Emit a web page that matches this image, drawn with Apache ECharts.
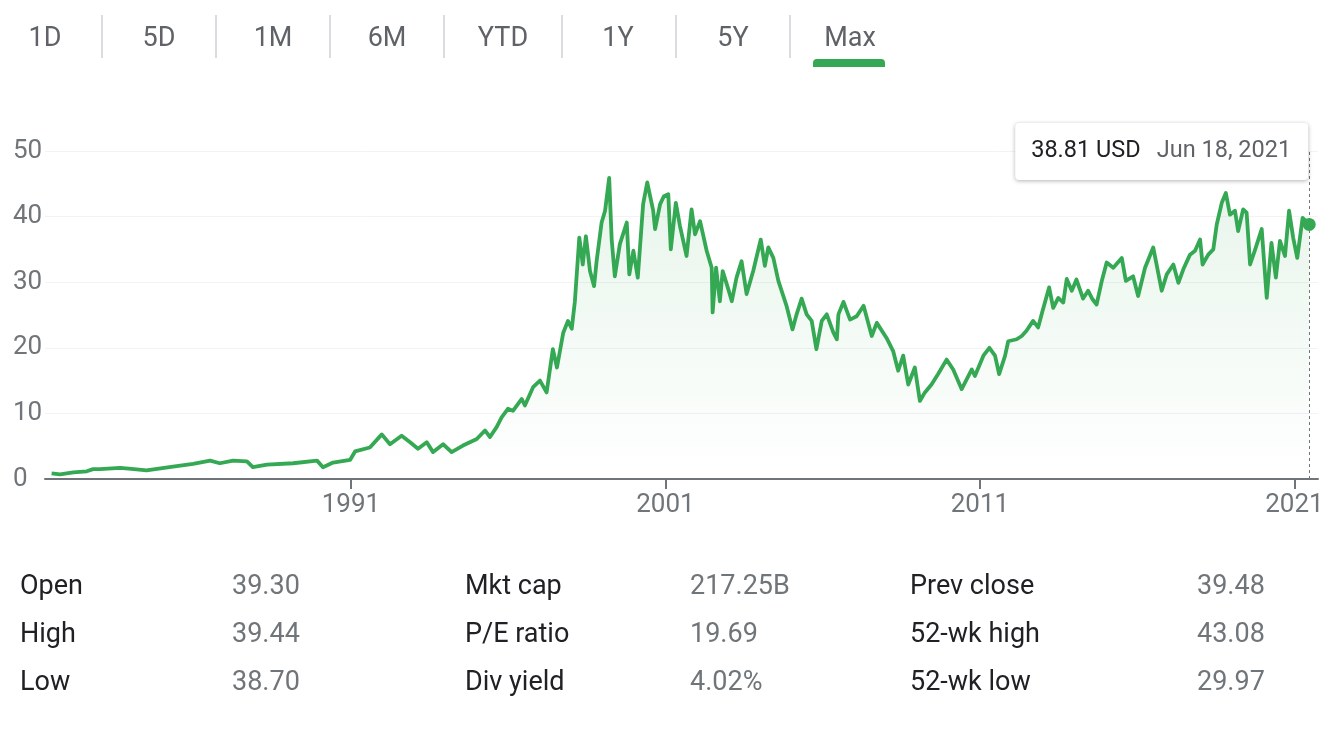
<!DOCTYPE html>
<html><head><meta charset="utf-8">
<script src="https://cdn.jsdelivr.net/npm/echarts@6/dist/echarts.min.js"></script>
<style>html,body{margin:0;padding:0;background:#fff}#c{width:1343px;height:730px}</style>
</head><body><div id="c"></div>
<script>
// ---------- data ----------
const ranges = ['1D', '5D', '1M', '6M', 'YTD', '1Y', '5Y', 'Max'];
const activeRange = 'Max';
const yearTicks = [1991, 2001, 2011, 2021];
const years = [
  1981.48, 1981.75, 1982.17, 1982.60, 1982.80, 1983.02, 1983.66, 1984.10, 1984.50, 1985.34,
  1985.98, 1986.52, 1986.83, 1987.25, 1987.69, 1987.88, 1988.33, 1989.16, 1989.92, 1990.11,
  1990.43, 1990.97, 1991.13, 1991.60, 1991.98, 1992.24, 1992.61, 1992.88, 1993.13, 1993.41,
  1993.61, 1993.93, 1994.20, 1994.56, 1995.00, 1995.26, 1995.42, 1995.63, 1995.79, 1995.99,
  1996.15, 1996.43, 1996.53, 1996.79, 1997.01, 1997.22, 1997.42, 1997.55, 1997.75, 1997.90,
  1998.02, 1998.12, 1998.26, 1998.37, 1998.47, 1998.60, 1998.73, 1998.81, 1998.97, 1999.08,
  1999.21, 1999.29, 1999.39, 1999.55, 1999.77, 1999.85, 1999.98, 2000.12, 2000.29, 2000.42,
  2000.61, 2000.67, 2000.83, 2000.95, 2001.09, 2001.17, 2001.33, 2001.46, 2001.67, 2001.83,
  2001.94, 2002.10, 2002.31, 2002.47, 2002.50, 2002.61, 2002.73, 2002.82, 2003.00, 2003.11,
  2003.26, 2003.42, 2003.58, 2003.79, 2004.03, 2004.16, 2004.27, 2004.43, 2004.59, 2004.85,
  2005.04, 2005.17, 2005.33, 2005.49, 2005.65, 2005.80, 2005.97, 2006.13, 2006.34, 2006.45,
  2006.50, 2006.66, 2006.87, 2007.08, 2007.30, 2007.56, 2007.72, 2008.03, 2008.24, 2008.40,
  2008.56, 2008.72, 2008.93, 2009.09, 2009.25, 2009.46, 2009.67, 2009.94, 2010.15, 2010.42,
  2010.74, 2010.84, 2011.11, 2011.30, 2011.48, 2011.61, 2011.80, 2011.90, 2012.17, 2012.33,
  2012.48, 2012.69, 2012.85, 2012.99, 2013.20, 2013.33, 2013.49, 2013.65, 2013.76, 2013.92,
  2014.07, 2014.28, 2014.44, 2014.58, 2014.71, 2014.87, 2015.03, 2015.24, 2015.51, 2015.64,
  2015.87, 2016.03, 2016.25, 2016.51, 2016.78, 2016.94, 2017.15, 2017.31, 2017.47, 2017.68,
  2017.84, 2018.00, 2018.08, 2018.26, 2018.42, 2018.53, 2018.69, 2018.82, 2018.95, 2019.11,
  2019.21, 2019.37, 2019.48, 2019.59, 2019.74, 2019.96, 2020.12, 2020.27, 2020.41, 2020.54,
  2020.70, 2020.83, 2020.96, 2021.09, 2021.26, 2021.47
];
const prices = [
  0.86, 0.70, 1.0, 1.17, 1.5, 1.5, 1.7, 1.5, 1.3, 1.9,
  2.3, 2.8, 2.4, 2.8, 2.7, 1.8, 2.2, 2.4, 2.8, 1.8,
  2.5, 2.9, 4.2, 4.8, 6.8, 5.3, 6.6, 5.6, 4.6, 5.6,
  4.1, 5.3, 4.1, 5.1, 6.1, 7.4, 6.4, 7.9, 9.4, 10.7,
  10.4, 12.2, 11.2, 14.0, 15.0, 13.2, 19.8, 17.0, 22.3, 24.1,
  22.9, 27.1, 36.8, 32.7, 37.0, 31.7, 29.4, 33.2, 39.1, 40.9,
  45.9, 36.5, 30.9, 35.8, 39.1, 31.2, 34.8, 30.7, 41.9, 45.2,
  40.9, 38.1, 41.9, 43.1, 43.4, 35.0, 42.1, 38.6, 34.0, 41.1,
  37.3, 39.3, 34.8, 32.2, 25.4, 32.2, 27.1, 31.7, 28.9, 27.1,
  30.7, 33.2, 28.2, 31.7, 36.5, 32.5, 35.3, 33.7, 30.2, 26.4,
  22.8, 25.1, 27.5, 25.1, 24.1, 19.8, 24.1, 25.1, 22.3, 21.3,
  25.1, 27.0, 24.3, 24.8, 26.4, 21.8, 23.8, 21.5, 19.5, 16.5,
  18.8, 14.4, 17.0, 11.9, 13.2, 14.4, 16.0, 18.2, 16.7, 13.7,
  16.7, 15.7, 18.8, 20.0, 18.8, 16.0, 18.8, 21.0, 21.3, 21.8,
  22.6, 24.1, 23.1, 25.6, 29.2, 26.1, 27.6, 26.9, 30.5, 28.7,
  30.4, 27.5, 28.7, 27.4, 26.6, 30.1, 33.0, 32.2, 33.7, 30.2,
  30.9, 27.9, 32.2, 35.3, 28.7, 31.2, 32.7, 29.9, 32.0, 34.2,
  34.8, 36.5, 32.7, 34.2, 35.0, 38.8, 42.1, 43.6, 40.3, 40.9,
  37.8, 41.1, 40.6, 32.7, 34.8, 38.1, 27.6, 36.0, 30.7, 36.3,
  34.0, 40.9, 36.8, 33.7, 39.8, 38.81
];
const lastPriceText = '38.81 USD';
const lastDateText = 'Jun 18, 2021';
const statLabels = [['Open', 'High', 'Low'], ['Mkt cap', 'P/E ratio', 'Div yield'], ['Prev close', '52-wk high', '52-wk low']];
const statValues = [['39.30', '39.44', '38.70'], ['217.25B', '19.69', '4.02%'], ['39.48', '43.08', '29.97']];

// ---------- chart ----------
const FONT = 'Roboto, Arial, sans-serif';
const GREEN = '#34a853';
const GREY = '#70757a';
const chart = echarts.init(document.getElementById('c'), null, {renderer: 'canvas'});
const seriesData = years.map((y, i) => [y, prices[i]]);
const lastYear = years[years.length - 1];
const lastPrice = prices[prices.length - 1];

function staticGraphics() {
  const g = [];
  const tabCenters = [45, 159, 273, 387, 503, 618, 733, 850];
  const seps = [102, 216, 330, 444, 562, 676, 790];
  ranges.forEach((r, i) => {
    g.push({type: 'text', x: tabCenters[i], y: 39, style: {text: r, font: '27px ' + FONT, fill: '#5f6368', textAlign: 'center', textVerticalAlign: 'middle'}});
    if (r === activeRange) {
      g.push({type: 'rect', shape: {x: tabCenters[i] - 37, y: 59, width: 72, height: 8, r: [4, 4, 0, 0]}, style: {fill: GREEN}});
    }
  });
  seps.forEach(x => g.push({type: 'line', shape: {x1: x, y1: 15, x2: x, y2: 58}, style: {stroke: '#dadce0', lineWidth: 2}}));
  const colLabelX = [20, 465, 910];
  const colValueX = [232, 690, 1197];
  const rowY = [587, 635, 683];
  statLabels.forEach((col, c) => col.forEach((t, r) => {
    g.push({type: 'text', x: colLabelX[c], y: rowY[r], style: {text: t, font: '27px ' + FONT, fill: '#202124', textAlign: 'left', textVerticalAlign: 'middle'}});
    g.push({type: 'text', x: colValueX[c], y: rowY[r], style: {text: statValues[c][r], font: '27px ' + FONT, fill: GREY, textAlign: 'left', textVerticalAlign: 'middle'}});
  }));
  return g;
}

const option = {
  animation: false,
  backgroundColor: '#fff',
  grid: {left: 45, right: 25, top: 151, bottom: 251},
  xAxis: {
    type: 'value', min: 1981.27, max: 2021.75,
    splitLine: {show: false},
    axisLine: {lineStyle: {color: GREY, width: 2}},
    axisTick: {show: true, customValues: yearTicks, length: 10, lineStyle: {color: GREY, width: 2}},
    axisLabel: {customValues: yearTicks, formatter: v => String(Math.round(v)), color: GREY, fontSize: 26, fontFamily: FONT, margin: 13}
  },
  yAxis: {
    type: 'value', min: 0, max: 50, interval: 10,
    axisLine: {show: false}, axisTick: {show: false},
    splitLine: {lineStyle: {color: '#f1f3f4', width: 1}},
    axisLabel: {color: GREY, fontSize: 26, fontFamily: FONT, align: 'left', margin: 32}
  },
  series: [{
    type: 'line',
    data: seriesData,
    showSymbol: false,
    lineStyle: {color: GREEN, width: 3.8, join: 'round'},
    itemStyle: {color: GREEN},
    areaStyle: {color: new echarts.graphic.LinearGradient(0, 0, 0, 1, [
      {offset: 0, color: 'rgba(52,168,83,0.17)'},
      {offset: 1, color: 'rgba(52,168,83,0.0)'}
    ])},
    markLine: {
      silent: true, symbol: 'none', animation: false,
      label: {show: false},
      lineStyle: {type: [3, 3], color: GREY, width: 1},
      data: [{xAxis: lastYear}]
    },
    markPoint: {
      silent: true, animation: false,
      symbol: 'circle', symbolSize: 13,
      itemStyle: {color: GREEN},
      label: {show: false},
      data: [{coord: [lastYear, lastPrice]}]
    }
  }],
  graphic: staticGraphics()
};
chart.setOption(option);

// tooltip-like box anchored on the last data point
const p = chart.convertToPixel({gridIndex: 0}, [lastYear, lastPrice]);
const boxW = 293, boxH = 57;
const boxRight = p[0] - 1;
const boxX = boxRight - boxW, boxY = 123;
const g2 = staticGraphics().concat([
  {type: 'rect', z: 100, shape: {x: boxX, y: boxY, width: boxW, height: boxH, r: 4},
   style: {fill: '#fff', shadowBlur: 4, shadowOffsetY: 1, shadowColor: 'rgba(0,0,0,0.3)'}},
  {type: 'text', z: 101, x: boxX + 16, y: boxY + boxH / 2, style: {text: lastPriceText, font: '23.5px ' + FONT, fill: '#202124', textAlign: 'left', textVerticalAlign: 'middle'}},
  {type: 'text', z: 101, x: boxRight - 17, y: boxY + boxH / 2, style: {text: lastDateText, font: '23.5px ' + FONT, fill: '#5f6368', textAlign: 'right', textVerticalAlign: 'middle'}}
]);
chart.setOption({graphic: g2}, {replaceMerge: ['graphic']});
</script></body></html>
